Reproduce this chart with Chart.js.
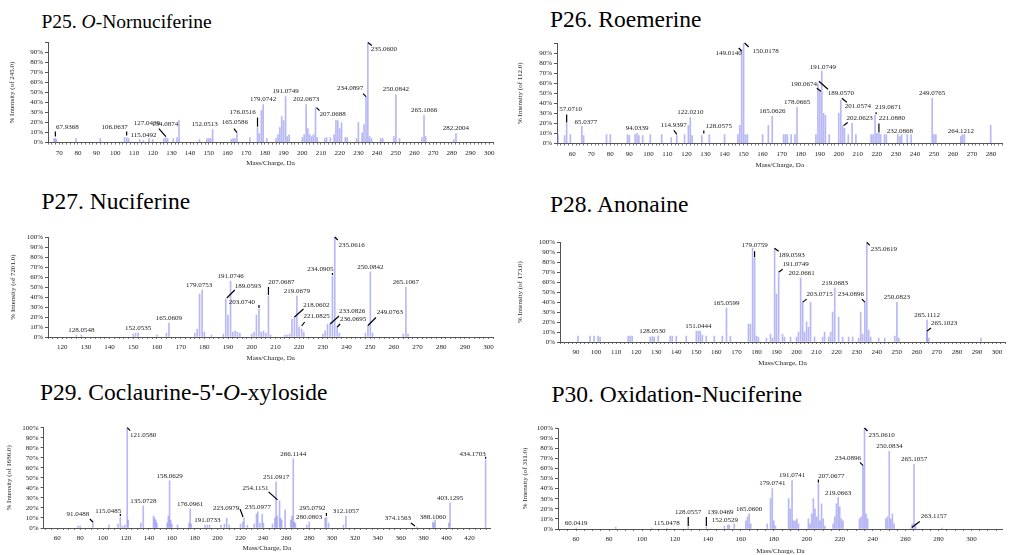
<!DOCTYPE html>
<html lang="en">
<head>
<meta charset="UTF-8">
<title>MS/MS spectra P25 - P30</title>
<script src="https://cdn.jsdelivr.net/npm/chart.js"></script>
<style>
  * { margin: 0; padding: 0; box-sizing: border-box; }
  body {
    width: 1009px; height: 555px; background: #fff;
    position: relative; overflow: hidden;
    font-family: "Liberation Serif", "Times New Roman", serif;
  }
  .title { position: absolute; font-size: 23.5px; line-height: 23.5px; color: #000; white-space: nowrap; }
  canvas { position: absolute; }
</style>
</head>
<body>

<div class="title" style="left:41.5px;top:11.7px;font-size:19.5px;line-height:19.5px">P25. <i>O</i>-Nornuciferine</div>
<div class="title" style="left:550px;top:8.3px">P26. Roemerine</div>
<div class="title" style="left:41.5px;top:190.3px">P27. Nuciferine</div>
<div class="title" style="left:550px;top:193.3px">P28. Anonaine</div>
<div class="title" style="left:40px;top:381.3px">P29. Coclaurine-5'-<i>O</i>-xyloside</div>
<div class="title" style="left:551.5px;top:383.3px">P30. Oxidation-Nuciferine</div>

<canvas id="c25"></canvas>
<canvas id="c26"></canvas>
<canvas id="c27"></canvas>
<canvas id="c28"></canvas>
<canvas id="c29"></canvas>
<canvas id="c30"></canvas>

<script>
// ---- P25 O-Nornuciferine (labelled peaks, then small unlabelled ones)
const p25Mz  = [67.9368, 106.0637, 115.0492, 127.0439, 134.0874, 152.0513, 165.0586, 176.0516, 179.0742, 191.0749, 202.0673, 207.0688, 234.0897, 235.0600, 250.0842, 265.1066, 282.2004];
const p25Int = [4, 5, 2, 5, 22, 13, 9, 15, 38, 46, 38, 35, 46, 100, 48, 27, 9];
const p25MinorMz  = [67.3, 68.5, 79, 92, 104.9, 107.1, 113, 118, 120, 126, 128, 131, 133, 145, 149, 150, 151, 162, 163, 164, 172, 177, 178.1, 181, 186, 187, 188, 189, 190, 192, 193, 200, 201, 203, 204, 205, 206, 208, 212, 213, 215, 217, 218, 219, 220, 221, 223, 224, 229, 230, 232, 233, 236, 237, 242, 243, 249, 252, 264, 266, 281];
const p25MinorInt = [4, 3, 4, 4, 5, 4, 3, 4, 3, 4, 4, 4, 5, 3, 4, 4, 4, 3, 4, 4, 5, 9, 32, 4, 4, 8, 15, 26, 22, 6, 8, 5, 8, 14, 8, 6, 8, 5, 4, 5, 5, 8, 22, 22, 14, 20, 5, 5, 4, 20, 10, 18, 6, 4, 4, 4, 6, 4, 5, 6, 3];

// ---- P26 Roemerine
const p26Mz  = [57.0710, 65.0377, 94.0339, 114.9397, 122.0210, 128.0575, 149.0140, 150.0178, 165.0626, 178.0665, 189.0570, 190.0674, 191.0749, 201.0574, 202.0623, 219.0671, 221.0880, 232.0868, 249.0765, 264.1212];
const p26Int = [20, 17, 10, 8, 26, 8, 93, 100, 27, 36, 60, 52, 72, 43, 18, 28, 10, 7, 45, 7];
const p26MinorMz  = [52.5, 56, 59, 66, 78, 80, 89, 90, 93, 95, 97, 101, 107, 112, 119, 121, 123, 132, 140, 147, 148, 151, 152, 160, 163, 171, 172, 173, 175, 177, 188, 192, 193, 195, 200, 203, 205, 207, 209, 217, 218, 220, 222, 224, 225, 231, 233, 236, 238, 250, 251, 265, 266, 279.8];
const p26MinorInt = [9, 8, 9, 8, 9, 9, 9, 8, 9, 8, 8, 9, 9, 6, 9, 18, 8, 9, 9, 9, 18, 9, 9, 9, 18, 9, 9, 9, 9, 9, 9, 30, 28, 9, 30, 15, 9, 20, 9, 9, 9, 10, 9, 9, 9, 9, 9, 9, 9, 9, 9, 9, 9, 18];

// ---- P27 Nuciferine
const p27Mz  = [128.0548, 152.0535, 165.0609, 179.0753, 189.0593, 191.0746, 203.0740, 207.0687, 218.0602, 219.0679, 221.0825, 233.0826, 234.0905, 235.0616, 236.0695, 249.0763, 250.0842, 265.1067];
const p27Int = [2, 4, 14, 47, 38, 56, 28, 41, 20, 41, 8, 13, 61, 100, 10, 11.5, 65, 50];
const p27MinorMz  = [126, 150, 151, 160, 164, 176, 177, 178, 180, 183, 188, 190, 192, 193, 194, 195, 200, 201, 202, 204, 205, 206, 208, 214, 215, 216, 217, 220, 222, 230, 231, 232, 237, 248, 251, 264, 266];
const p27MinorInt = [2, 3, 4, 2, 4, 4, 8, 43, 5, 2, 3, 22, 5, 6, 5, 4, 3, 5, 22, 5, 6, 4, 2, 2, 2, 3, 18, 10, 5, 3, 6, 13, 4, 4, 4, 3, 3];

// ---- P28 Anonaine
const p28Mz  = [128.0530, 151.0444, 165.0599, 179.0759, 189.0593, 191.0749, 202.0661, 203.0715, 219.0683, 234.0896, 235.0619, 250.0823, 265.1112, 265.1023];
const p28Int = [5.5, 11, 34, 84, 94, 69, 64, 40, 54, 40, 100, 40, 22, 11];
const p28MinorMz  = [91, 97, 99, 101, 102, 116, 117, 118, 127, 129, 131, 137, 138, 140, 145, 150, 152, 153, 155, 159, 163, 167, 176, 177, 178.1, 180, 181, 185, 187, 188, 190, 193, 194, 197, 200, 201, 204, 205, 206, 207, 209, 213, 214, 216, 217, 218, 221, 223, 226, 228, 231, 232, 233, 236, 237, 241, 244, 249, 251, 266, 292];
const p28MinorInt = [6, 6, 6, 6, 5, 6, 6, 6, 5, 5, 6, 6, 6, 6, 6, 11, 11, 7, 6, 6, 6, 6, 18, 18, 94, 6, 5, 4, 8, 4, 48, 8, 5, 5, 5, 10, 10, 20, 15, 40, 5, 5, 10, 5, 10, 30, 25, 5, 5, 5, 4, 30, 8, 12, 5, 4, 4, 6, 4, 4, 4];

// ---- P29 Coclaurine-5'-O-xyloside
const p29Mz  = [91.0488, 115.0485, 121.0580, 135.0728, 158.0629, 176.0961, 191.0733, 223.0979, 235.0977, 251.0917, 254.1151, 266.1144, 280.0803, 295.0792, 312.1057, 374.1563, 388.1060, 403.1295, 434.1703];
const p29Int = [6, 11, 100, 22, 47, 19, 3, 10, 16, 46, 27, 69, 6, 11, 12, 1, 6, 25, 68];
const p29MinorMz  = [78, 80, 105, 113, 117, 119, 122, 133, 144, 145, 146, 147, 156, 157, 159, 160, 165, 175, 177, 189, 193, 203, 206, 208, 210, 220, 222, 226, 232, 234, 237, 239, 240, 248, 250, 252, 255, 256, 259, 264, 265, 267, 268, 278, 294, 297, 310, 389, 390, 402];
const p29MinorInt = [2, 2, 3, 4, 2, 3, 8, 5, 12, 10, 8, 5, 5, 12, 8, 4, 3, 5, 4, 3, 3, 3, 4, 10, 3, 4, 6, 3, 4, 14, 5, 14, 5, 4, 10, 12, 10, 8, 18, 8, 12, 6, 5, 3, 10, 5, 3, 5, 8, 5];

// ---- P30 Oxidation-Nuciferine
const p30Mz  = [60.0419, 115.0478, 128.0557, 139.0469, 152.0529, 165.0600, 179.0741, 191.0741, 207.0677, 219.0663, 234.0896, 235.0610, 250.0834, 263.1157, 265.1057];
const p30Int = [1, 1, 2, 2, 4, 15, 40, 48, 45, 31, 63, 100, 77, 0.5, 64];
const p30MinorMz  = [84, 106, 150, 152.9, 156, 163, 164, 166, 176, 178, 180, 181, 189, 190, 192, 193, 194, 195, 201, 202, 203, 204, 205, 206, 208, 209, 210, 211, 216, 217, 218, 220, 221, 222, 232, 233, 236, 237, 248, 249, 251, 252, 253, 264, 266, 282];
const p30MinorInt = [2, 1, 3, 4, 5, 8, 12, 5, 5, 30, 8, 3, 30, 20, 8, 8, 10, 5, 10, 5, 15, 30, 20, 12, 8, 25, 10, 3, 5, 12, 25, 22, 10, 8, 10, 12, 15, 10, 10, 12, 10, 15, 5, 5, 5, 1];

// label placement: [dx, dy, leader] in px from the peak top; null = just above the peak
const p25LabelPos = [[12,-11,[0,-2,0,-7]], [-12,-10,[0,-2,0,-6]], null, [-19,-14,[-7,-9,0,-1]], [-14,4], [-8,-5], [-2,-11,[0,-1,-3,-5]], [-15,-15,[0,-1,0,-10]], null, null, null, [17,7,[1,0,4,3]], [-16,-8,[-3,-3,0,0]], [16,7,[0,0,4,3]], null, null, null];
const p26LabelPos = [[4,-14,[0,-1,0,-9]], [4,-4], null, [-3,-10,[-3,-5,0,-1]], null, [17,-9,[2,-2,2,-5]], [-13,3,[-3,-2,0,1]], [22,8,[1,0,5,4]], null, null, [23,10,[1,-2,10,6]], [-16,-7,[-3,-3,1,0]], [1,-4], [17,6,[1,-2,6,2]], [17,-7,[1,0,5,-3]], [13,-8,[1,-1,1,-3]], [13,-15,[0,-1,0,-10]], null, null, null];
const p27LabelPos = [null, null, null, [-3,-5], [22,-13,[1,-1,9,-9]], null, [-17,-7,[0,-1,0,-4]], [13,-14,[0,-1,0,-9]], [22,-12,[0,0,9,-8]], null, [15,-13,[0,-3,3,-7]], [22,-13,[0,0,9,-8]], [-12,-7,[0,-1,0,-3]], [17,8,[0,0,3,3]], [16,-8,[0,0,3,-3]], [22,-13,[0,0,8,-8]], null, null];
const p28LabelPos = [null, null, null, [0,-13,[0,-1,0,-7]], [17,7,[0,0,4,3]], [17,-9,[0,-1,4,-4]], [1,-5], [17,-8,[0,0,4,-3]], null, [-14,-8,[-3,-3,0,0]], [17,7,[0,0,3,3]], null, null, [17,-8,[0,0,4,-3]]];
const p29LabelPos = [[-15,-8,[-3,-3,0,0]], [-12,-6,[0,-1,0,-3]], [16,7,[0,0,3,3]], null, null, null, null, [-18,-10,[-4,-9,-1,-1]], null, null, [-24,-13,[-11,-9,-2,-1]], null, null, [-14,-9,[0,-1,0,-4]], null, [-19,-9,[-6,-4,-2,-1]], null, null, [-13,-6,[0,-1,0,-3]]];
const p30LabelPos = [null, null, [0,-15,[0,-1,0,-10]], [14,-15,[0,-1,0,-10]], [-3,-5], null, null, null, [13,-7,[0,-1,0,-4]], null, [-15,-7,[-3,-3,0,0]], [17,7,[0,0,3,3]], null, [23,-12,[1,-1,9,-7]], null];

// plot boxes on the page (px): plot area, y title centre x, x title centre y
const panelLayout = {
  c25: { l: 48,  r: 493,    t: 42.6,  b: 142.6, ytx: 12,  xty: 163.5 },
  c26: { l: 557, r: 1002.5, t: 43,    b: 143.5, ytx: 520, xty: 165.5 },
  c27: { l: 48,  r: 493.3,  t: 237,   b: 337,   ytx: 13,  xty: 358 },
  c28: { l: 560, r: 1005.8, t: 242.3, b: 342,   ytx: 520, xty: 363 },
  c29: { l: 43.6, r: 490,   t: 427.7, b: 528,   ytx: 9.5, xty: 548.5 },
  c30: { l: 558, r: 1002.8, t: 428,   b: 529,   ytx: 525, xty: 551 }
};

const SERIF = '"Liberation Serif", "Times New Roman", serif';
Chart.defaults.font.family = SERIF;
Chart.defaults.color = '#222';

const toPoints = (xs, ys) => xs.map((v, i) => ({ x: v, y: ys[i] }));

function peakLabels(mz, values, pos) {
  return {
    id: 'peakLabels',
    afterDatasetsDraw(chart) {
      const { ctx, scales: { x, y } } = chart;
      ctx.save();
      ctx.font = '7px ' + SERIF;
      ctx.fillStyle = '#1a1a1a';
      ctx.strokeStyle = '#000';
      ctx.lineWidth = 1.2;
      ctx.textAlign = 'center';
      ctx.textBaseline = 'middle';
      mz.forEach((m, i) => {
        const px = x.getPixelForValue(m);
        const py = y.getPixelForValue(values[i]);
        const [dx, dy, lead] = pos[i] || [0, -5];
        if (lead) {
          ctx.beginPath();
          ctx.moveTo(px + lead[0], py + lead[1]);
          ctx.lineTo(px + lead[2], py + lead[3]);
          ctx.stroke();
        }
        ctx.fillText(m.toFixed(4), px + dx, py + dy);
      });
      ctx.restore();
    }
  };
}

function stepTicks(step) {
  return scale => {
    const t = [];
    for (let v = Math.ceil(scale.min / step - 1e-9) * step; v <= scale.max + 1e-9; v += step) {
      t.push({ value: Math.round(v * 1000) / 1000 });
    }
    scale.ticks = t;
  };
}

function buildPanel(id, s) {
  const L = panelLayout[id];
  const lh = 8.4; // 7px title font, line height 1.2
  const left = Math.floor(L.ytx - 6);
  const top = Math.floor(L.t - 16);
  const right = Math.min(1009, Math.ceil(L.r + 8));
  const bottom = Math.ceil(L.xty + 5.5);
  const W = right - left, H = bottom - top;
  const canvas = document.getElementById(id);
  canvas.width = W; canvas.height = H;
  canvas.style.left = left + 'px'; canvas.style.top = top + 'px';
  canvas.style.width = W + 'px'; canvas.style.height = H + 'px';

  const padL = L.ytx - lh / 2 - left;
  const padB = bottom - (L.xty + lh / 2);
  const yW = L.l - left - padL;
  const xH = (L.xty + lh / 2) - L.b;

  const barStyle = { backgroundColor: 'rgba(125,125,235,0.55)', borderWidth: 0, barThickness: 1, grouped: false };

  new Chart(canvas, {
    type: 'bar',
    data: {
      datasets: [
        Object.assign({ data: toPoints(s.minorMz, s.minorInt) }, barStyle),
        Object.assign({ data: toPoints(s.mz, s.int) }, barStyle)
      ]
    },
    options: {
      responsive: false,
      maintainAspectRatio: false,
      animation: false,
      devicePixelRatio: 1,
      layout: { padding: { left: padL, top: L.t - top, right: right - L.r, bottom: padB } },
      plugins: { legend: { display: false }, tooltip: { enabled: false } },
      scales: {
        x: {
          type: 'linear',
          min: s.xMin, max: s.xMax,
          offset: false,
          afterBuildTicks: stepTicks(s.xStep),
          afterFit: sc => { sc.height = xH; },
          grid: { drawOnChartArea: false, offset: false, tickLength: 2, color: '#777' },
          border: { color: '#555', width: 1 },
          ticks: {
            autoSkip: false, maxRotation: 0, padding: 4,
            font: { size: 7 }, color: '#222',
            callback: v => (Math.abs(v / s.xLabelEvery - Math.round(v / s.xLabelEvery)) < 1e-6 ? String(Math.round(v)) : '')
          },
          title: { display: true, text: 'Mass/Charge, Da', font: { size: 7 }, padding: 0, color: '#222' }
        },
        y: {
          min: 0, max: 100,
          afterBuildTicks: stepTicks(10),
          afterFit: sc => { sc.width = yW; },
          grid: { drawOnChartArea: false, tickLength: 3, color: '#555' },
          border: { color: '#555', width: 1 },
          ticks: {
            autoSkip: false, padding: 2, font: { size: 7 }, color: '#222',
            callback: v => (s.hideTop && v === 100 ? '' : v + '%')
          },
          title: { display: true, text: s.yTitle, font: { size: 7 }, padding: 0, color: '#222' }
        }
      }
    },
    plugins: [peakLabels(s.mz, s.int, s.labelPos)]
  });
}

buildPanel('c25', { mz: p25Mz, int: p25Int, minorMz: p25MinorMz, minorInt: p25MinorInt, labelPos: p25LabelPos,
  xMin: 64, xMax: 302, xStep: 2, xLabelEvery: 10, hideTop: true, yTitle: '% Intensity (of 245.0)' });
buildPanel('c26', { mz: p26Mz, int: p26Int, minorMz: p26MinorMz, minorInt: p26MinorInt, labelPos: p26LabelPos,
  xMin: 52, xMax: 286, xStep: 2, xLabelEvery: 10, hideTop: true, yTitle: '% Intensity (of 112.0)' });
buildPanel('c27', { mz: p27Mz, int: p27Int, minorMz: p27MinorMz, minorInt: p27MinorInt, labelPos: p27LabelPos,
  xMin: 114, xMax: 302, xStep: 2, xLabelEvery: 10, hideTop: false, yTitle: '% Intensity (of 7201.0)' });
buildPanel('c28', { mz: p28Mz, int: p28Int, minorMz: p28MinorMz, minorInt: p28MinorInt, labelPos: p28LabelPos,
  xMin: 82, xMax: 304, xStep: 2, xLabelEvery: 10, hideTop: false, yTitle: '% Intensity (of 173.0)' });
buildPanel('c29', { mz: p29Mz, int: p29Int, minorMz: p29MinorMz, minorInt: p29MinorInt, labelPos: p29LabelPos,
  xMin: 48, xMax: 438, xStep: 5, xLabelEvery: 20, hideTop: false, yTitle: '% Intensity (of 1686.0)' });
buildPanel('c30', { mz: p30Mz, int: p30Int, minorMz: p30MinorMz, minorInt: p30MinorInt, labelPos: p30LabelPos,
  xMin: 49, xMax: 319, xStep: 5, xLabelEvery: 20, hideTop: false, yTitle: '% Intensity (of 311.0)' });
</script>
</body>
</html>
